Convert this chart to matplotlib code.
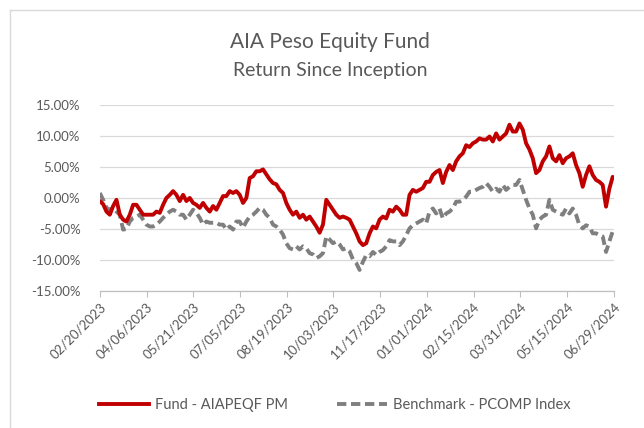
import pandas as pd
import matplotlib
matplotlib.use("Agg")
import matplotlib.pyplot as plt
import matplotlib.dates as mdates
from matplotlib.lines import Line2D
from matplotlib.ticker import FuncFormatter, MultipleLocator

# ----------------- DATA (return since inception, %) -----------------
start_date = "2023-02-20"
end_date = "2024-06-28"

fund = [
    -0.5, -1.0, -2.2, -2.7, -1.3, -0.3, -2.7, -3.5, -3.8, -2.7,
    -1.1, -1.1, -1.9, -2.7, -2.7, -2.7, -2.7, -2.2, -2.4, -1.1,
    0.0, 0.5, 1.1, 0.5, -0.5, 0.5, -0.5, 0.0, -0.8, -1.1,
    -1.6, -0.8, -1.6, -2.2, -1.3, -1.9, -0.8, 0.3,
    0.3, 1.1, 0.8, 1.1, 0.5, -0.8, 0.0, 3.2, 3.5, 4.3,
    4.3, 4.6, 3.8, 3.0, 2.4, 2.2, 1.3, 0.8, -0.8, -1.9,
    -2.7, -2.2, -3.2, -2.7, -3.5, -3.0, -3.8, -4.6, -5.6, -4.3,
    -0.3, -1.1, -1.9, -2.7, -3.2, -3.0, -3.2, -3.5, -4.6,
    -5.7, -7.0, -7.6, -7.3, -5.7, -4.6, -4.9, -3.5, -3.0, -3.3,
    -1.9, -2.2, -1.4, -1.9, -2.7, -2.7, 0.5, 1.3, 1.0, 1.3,
    1.6, 2.6, 2.6, 3.7, 4.2, 4.5, 2.4, 4.2, 5.3, 4.5,
    5.9, 6.7, 7.2, 8.5, 8.2, 8.8, 9.1, 9.6, 9.4,
    9.4, 9.9, 9.1, 10.4, 9.4, 9.9, 10.4, 11.8, 10.7, 10.7,
    12.0, 11.0, 8.8, 7.8, 6.4, 4.0, 4.5, 5.9, 6.7, 8.3,
    6.4, 5.9, 6.9, 5.6, 6.4, 6.7, 7.2, 5.3, 4.0, 1.8,
    3.7, 5.1, 3.7, 2.9, 2.6, 2.1, -1.4, 1.5, 3.4,
]

benchmark = [
    0.8, -0.3, -1.6, -1.9, -1.6, -2.2, -2.7, -5.1, -5.0, -3.8,
    -3.2, -3.0, -2.7, -3.5, -4.3, -4.6, -4.6, -4.3, -3.8, -3.2,
    -2.7, -2.2, -1.9, -2.2, -2.7, -2.7, -3.5, -2.7, -1.9, -2.4,
    -3.2, -4.3, -3.8, -4.0, -4.0, -4.0, -4.3, -4.3,
    -5.1, -4.6, -5.1, -3.8, -3.8, -4.8, -3.8, -3.0, -2.7, -2.2,
    -1.6, -1.9, -2.7, -3.2, -4.3, -4.6, -5.1, -5.9, -7.3, -8.1,
    -8.3, -7.8, -8.3, -7.8, -8.1, -8.9, -9.1, -9.7, -9.4, -8.9,
    -6.2, -6.7, -7.3, -7.0, -7.5, -8.3, -8.1, -8.6, -9.9,
    -10.5, -11.6, -10.3, -9.2, -9.4, -8.7, -9.2, -8.7, -8.4, -7.8,
    -6.8, -7.0, -7.0, -7.6, -7.0, -6.0, -4.9, -4.4, -4.1, -3.8,
    -3.5, -4.1, -2.2, -1.7, -2.5, -1.7, -3.3, -2.5, -2.2, -1.7,
    -0.6, -0.6, -0.3, 0.2, 1.0, 1.0, 1.3, 1.6, 1.8,
    2.4, 1.8, 1.0, 1.5, 1.0, 2.1, 1.3, 1.8, 2.1, 2.1,
    2.9, 1.3, -0.3, -1.7, -2.7, -4.9, -3.5, -3.0, -2.7, -0.3,
    -1.9, -2.2, -2.5, -2.7, -1.7, -2.5, -1.7, -2.7, -4.4, -4.9,
    -4.4, -4.6, -5.7, -5.7, -6.0, -6.2, -8.7, -7.0, -5.4,
]

dates = pd.date_range(start_date, end_date, periods=len(fund))

fund_label = "Fund - AIAPEQF PM"
bench_label = "Benchmark - PCOMP Index"
title = "AIA Peso Equity Fund"
subtitle = "Return Since Inception"

# ----------------- STYLE -----------------
plt.rcParams["font.family"] = ["Lato", "DejaVu Sans"]
txt_color = "#595959"
red = "#C00000"
gray = "#7F7F7F"

fig = plt.figure(figsize=(6.44, 4.28), dpi=100)
ax = fig.add_axes([0.155, 0.32, 0.798, 0.435])

ax.plot(dates, fund, color=red, lw=2.8, solid_capstyle="round", zorder=3)
ax.plot(dates, benchmark, color=gray, lw=2.8, dashes=(2.4, 1.2), zorder=2)

# ----------------- AXES -----------------
ax.set_ylim(-15, 15)
ax.yaxis.set_major_locator(MultipleLocator(5))
ax.yaxis.set_major_formatter(FuncFormatter(lambda v, p: f"{v:.2f}%"))

xmin = pd.Timestamp("2023-02-20")
xmax = pd.Timestamp("2024-06-29")
ax.set_xlim(xmin, xmax)
ticks = pd.date_range(xmin, xmax, freq="45D")
ax.set_xticks(ticks)
ax.xaxis.set_major_formatter(mdates.DateFormatter("%m/%d/%Y"))

ax.grid(axis="y", color="#D9D9D9", lw=0.9)
ax.set_axisbelow(True)
for s in ["top", "right", "left"]:
    ax.spines[s].set_visible(False)
ax.spines["bottom"].set_color("#BFBFBF")
ax.spines["bottom"].set_linewidth(0.9)

ax.tick_params(axis="y", length=0, labelsize=9.5, labelcolor=txt_color, pad=14)
ax.tick_params(axis="x", length=4, color="#BFBFBF", labelsize=9.5,
               labelcolor=txt_color, pad=3)
for lbl in ax.get_xticklabels():
    lbl.set_rotation(45)
    lbl.set_ha("right")
    lbl.set_rotation_mode("anchor")

# ----------------- TITLES -----------------
fig.text(0.513, 0.902, title, ha="center", va="center", fontsize=15, color=txt_color)
fig.text(0.513, 0.836, subtitle, ha="center", va="center", fontsize=14, color=txt_color)

# ----------------- LEGEND -----------------
handles = [
    Line2D([], [], color=red, lw=2.8),
    Line2D([], [], color=gray, lw=2.8, dashes=(2.4, 1.2)),
]
fig.legend(handles, [fund_label, bench_label], loc="center", bbox_to_anchor=(0.52, 0.053),
           ncol=2, frameon=False, fontsize=10.5, handlelength=3.4, handletextpad=0.4,
           columnspacing=3.4, labelcolor=txt_color)

# ----------------- BORDER -----------------
fig.add_artist(Line2D([10 / 644, 10 / 644], [0, 1 - 10 / 428], transform=fig.transFigure,
                      color="#D9D9D9", lw=1))
fig.add_artist(Line2D([10 / 644, 1], [1 - 10 / 428, 1 - 10 / 428], transform=fig.transFigure,
                      color="#D9D9D9", lw=1))

fig.savefig("out.png", dpi=100)
